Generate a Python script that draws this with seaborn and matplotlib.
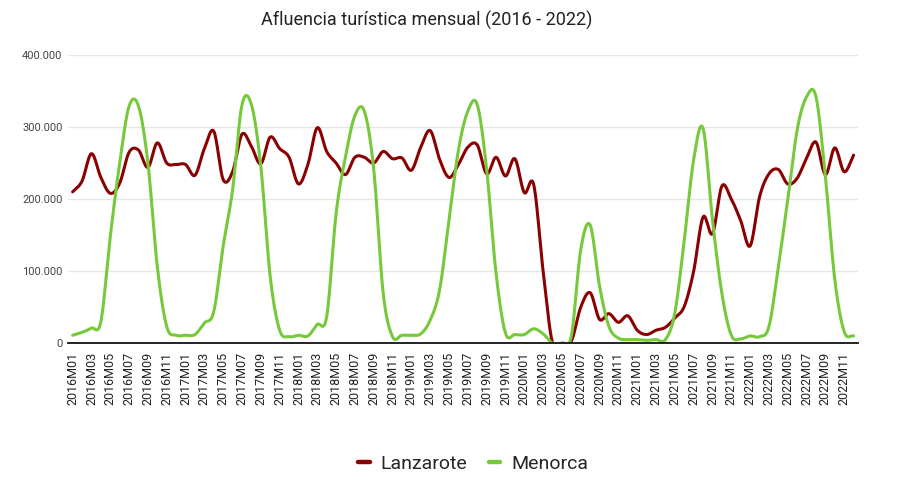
import numpy as np
import pandas as pd
import matplotlib
matplotlib.use('Agg')
import matplotlib.pyplot as plt
from matplotlib.ticker import FuncFormatter
import seaborn as sns

# turistas por mes, en miles
lanzarote = [210, 225, 263, 230, 208, 222, 265, 268, 244, 278,
             250, 248, 248, 233, 270, 294, 227, 238, 290, 273,
             249, 286, 270, 258, 221, 248, 299, 266, 250, 234,
             258, 258, 250, 266, 256, 257, 240, 272, 295, 255,
             230, 248, 272, 275, 235, 258, 232, 256, 209, 220,
             100, 0, 0, 3, 50, 70, 33, 41, 29, 38,
             18, 12, 18, 22, 35, 51, 100, 175, 152, 218,
             200, 170, 135, 203, 235, 241, 221, 229, 257, 279,
             234, 271, 238, 261]

menorca = [11, 15, 21, 30, 148, 250, 329, 329, 250, 106,
           23, 11, 11, 12, 28, 44, 135, 213, 331, 331,
           245, 92, 18, 9, 11, 10, 26, 37, 180, 259,
           316, 322, 241, 70, 9, 11, 11, 13, 32, 74,
           171, 268, 322, 331, 241, 97, 14, 12, 12, 20,
           13, 0, 0, 10, 130, 164, 79, 23, 7, 5,
           5, 4, 5, 5, 42, 143, 255, 298, 171, 69,
           11, 6, 10, 9, 23, 106, 199, 296, 342, 342,
           231, 88, 16, 10]

anios = range(2016, 2023)
periodos = [f'{a}M{m:02d}' for a in anios for m in range(1, 13)]
islas = ['Lanzarote', 'Menorca']
colores = {'Lanzarote': '#8b0000', 'Menorca': '#76c93a'}


def suavizar(valores, n=16):
    # curva tipo catmull-rom entre los puntos mensuales
    y = np.asarray(valores, float)
    m = np.gradient(y)
    xs, ys = [], []
    for i in range(len(y) - 1):
        t = np.linspace(0, 1, n, endpoint=False)
        h00 = 2 * t**3 - 3 * t**2 + 1
        h10 = t**3 - 2 * t**2 + t
        h01 = -2 * t**3 + 3 * t**2
        h11 = t**3 - t**2
        ys.append(h00 * y[i] + h10 * m[i] + h01 * y[i + 1] + h11 * m[i + 1])
        xs.append(i + t)
    xs.append([len(y) - 1])
    ys.append([y[-1]])
    return np.concatenate(xs), np.concatenate(ys)


filas = []
for isla, serie in zip(islas, [lanzarote, menorca]):
    xs, ys = suavizar(serie)
    filas.append(pd.DataFrame({'pos': xs, 'turistas': ys * 1000, 'isla': isla}))
df = pd.concat(filas, ignore_index=True)

sns.set_style('white')
plt.rcParams['font.family'] = ['Roboto', 'DejaVu Sans']

fig, ax = plt.subplots(figsize=(9.18, 4.82), dpi=100)
fig.subplots_adjust(left=0.074, right=0.935, top=0.886, bottom=0.288)

sns.lineplot(data=df, x='pos', y='turistas', hue='isla', hue_order=islas,
             palette=colores, linewidth=2.2, estimator=None, ax=ax)

ax.set_xlim(-0.5, 83.5)
ax.set_ylim(0, 400000)
ax.set_yticks(range(0, 400001, 100000))
ax.yaxis.set_major_formatter(FuncFormatter(lambda v, p: f'{int(v):,}'.replace(',', '.')))
ax.set_xticks(range(0, 84, 2))
ax.set_xticklabels(periodos[::2], rotation=90)
ax.tick_params(axis='y', length=0, pad=4, labelsize=8, labelcolor='#444444')
ax.tick_params(axis='x', length=0, pad=6, labelsize=9, labelcolor='#222222')
ax.set_xlabel('')
ax.set_ylabel('')

ax.yaxis.grid(True, color='#e6e6e6', linewidth=1)
ax.set_axisbelow(True)
for lado in ['top', 'right', 'left']:
    ax.spines[lado].set_visible(False)
ax.spines['bottom'].set_color('#111111')
ax.spines['bottom'].set_linewidth(1.3)

fig.text(427 / 918, 1 - 20 / 482, 'Afluencia turística mensual (2016 - 2022)',
         ha='center', va='center', fontsize=13, color='#222222')

sns.move_legend(ax, 'center', bbox_to_anchor=(473 / 918, 1 - 464 / 482),
                bbox_transform=fig.transFigure, ncol=2, frameon=False, title=None,
                fontsize=14, handlelength=0.6, handletextpad=0.55, columnspacing=1.1)
for h in ax.get_legend().legend_handles:
    h.set_linewidth(3.2)

fig.savefig('out.png', dpi=100)
